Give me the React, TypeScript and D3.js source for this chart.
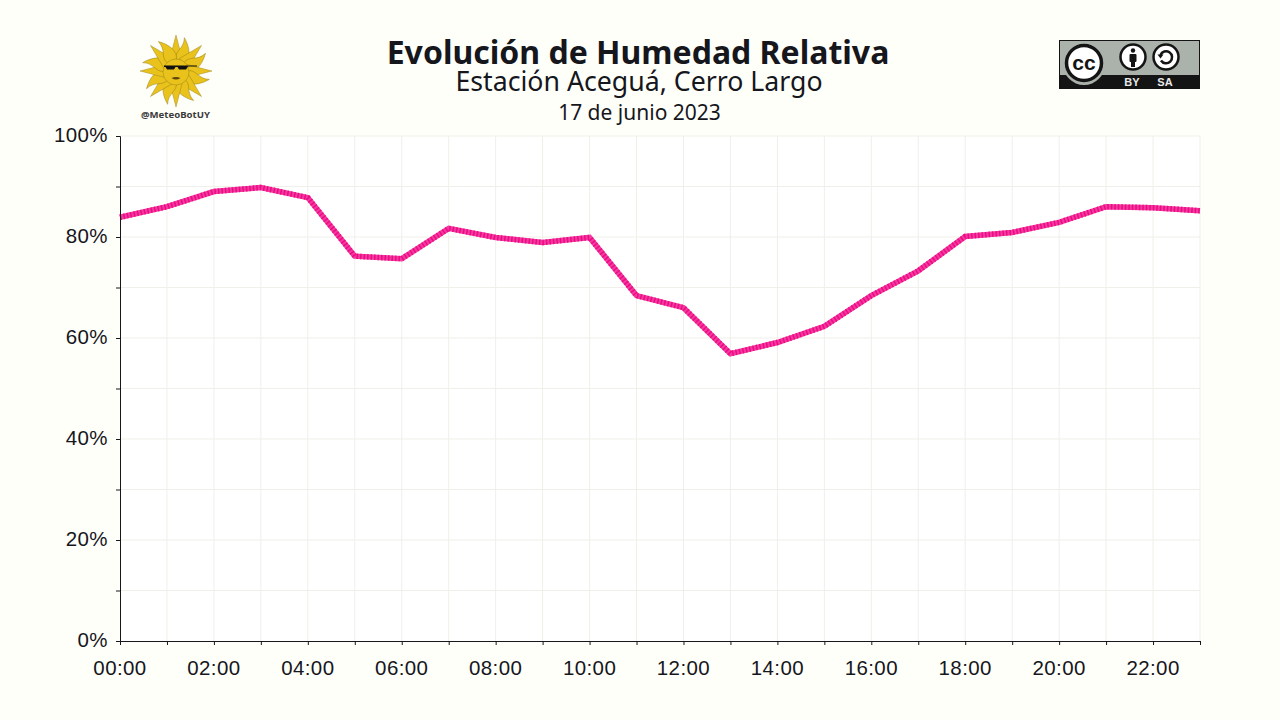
import React, { useRef, useEffect } from 'react';
import * as d3 from 'd3';

const hours = ['00:00', '01:00', '02:00', '03:00', '04:00', '05:00', '06:00', '07:00', '08:00', '09:00', '10:00', '11:00', '12:00', '13:00', '14:00', '15:00', '16:00', '17:00', '18:00', '19:00', '20:00', '21:00', '22:00', '23:00'];
const humidity = [83.9, 86.0, 89.0, 89.8, 87.8, 76.2, 75.7, 81.7, 79.9, 78.9, 79.9, 68.4, 66.0, 56.9, 59.1, 62.3, 68.4, 73.3, 80.1, 80.9, 82.9, 86.0, 85.8, 85.2];
const yTicks = [0, 10, 20, 30, 40, 50, 60, 70, 80, 90, 100];

const width = 1280;
const height = 720;
const margin = { top: 136, right: 80, bottom: 79, left: 120 };
const ink = '#16161d';
const sansAxis = '"Liberation Sans", Arial, sans-serif';
const sansTitle = '"Noto Sans", sans-serif';

const Sun = () => {
  const cx = 176;
  const cy = 71;
  const rays = d3.range(16).map((i) => (i * 360) / 16);
  return (
    <g>
      {rays.map((a, i) => (
        <path
          key={a}
          transform={`translate(${cx},${cy}) rotate(${a})`}
          d={i % 2 === 0 ? 'M-6.5,-11 L0,-36 L6.5,-11 Z' : 'M-5,-11 C-9,-19 -1,-23 -5,-34 C4,-27 9,-18 5,-11 Z'}
          fill="#e9c31b"
          stroke="#8a7418"
          strokeWidth={0.4}
        />
      ))}
      <circle cx={cx} cy={cy + 1} r={13} fill="#e9c31b" stroke="#8a7418" strokeWidth={0.4} />
      <path d="M164,65.5 H197 V66.5 H188 L186,69.5 H179 L177.5,67 H175.5 L174,69.5 H167 L165.5,67 H164 Z" fill="#111" />
      <path d="M171.5,78 Q176,76 180.5,78 Q176,81 171.5,78 Z" fill="#5c4410" />
      <text x={175.5} y={118} textAnchor="middle" fontFamily={sansTitle} fontWeight={700} fontSize={9.6} fill="#3a3a3a">@MeteoBotUY</text>
    </g>
  );
};

const CcBadge = () => (
  <g>
    <rect x={1059} y={40} width={141} height={49} fill="#aab2ab" />
    <rect x={1059} y={75} width={141} height={14} fill="#141414" />
    <rect x={1059.5} y={40.5} width={140} height={48} fill="none" stroke="#141414" strokeWidth={1} />
    <circle cx={1084} cy={64} r={21} fill="#aab2ab" />
    <circle cx={1084} cy={63} r={17.5} fill="#fff" stroke="#141414" strokeWidth={3.5} />
    <text x={1084} y={70} textAnchor="middle" fontFamily={sansAxis} fontWeight={700} fontSize={21} fill="#141414">cc</text>
    <circle cx={1133} cy={57} r={12.5} fill="#fff" stroke="#141414" strokeWidth={2.5} />
    <circle cx={1133} cy={50.5} r={2.2} fill="#141414" />
    <rect x={1129.5} y={54} width={7} height={8} rx={1} fill="#141414" />
    <rect x={1131} y={60} width={4} height={7} fill="#141414" />
    <circle cx={1166} cy={57} r={12.5} fill="#fff" stroke="#141414" strokeWidth={2.5} />
    <path d="M1160.5,55 A6,6 0 1 1 1161,60.5" fill="none" stroke="#141414" strokeWidth={2.5} />
    <path d="M1157.5,54.5 L1163.5,54.5 L1160.5,58.5 Z" fill="#141414" />
    <text x={1132} y={86} textAnchor="middle" fontFamily={sansAxis} fontWeight={700} fontSize={11} fill="#e8e8e8">BY</text>
    <text x={1165} y={86} textAnchor="middle" fontFamily={sansAxis} fontWeight={700} fontSize={11} fill="#e8e8e8">SA</text>
  </g>
);

const App = () => {
  const chartRef = useRef<SVGGElement>(null);

  useEffect(() => {
    if (!chartRef.current) return;
    const g = d3.select(chartRef.current);
    g.selectAll('*').remove();

    const x = d3
      .scalePoint<string>()
      .domain(hours)
      .range([margin.left, width - margin.right]);
    const y = d3
      .scaleLinear()
      .domain([0, 100])
      .range([height - margin.bottom, margin.top]);

    // plot background
    g.append('rect')
      .attr('x', margin.left)
      .attr('y', margin.top)
      .attr('width', width - margin.left - margin.right)
      .attr('height', height - margin.top - margin.bottom)
      .attr('fill', '#ffffff');

    // grid
    g.append('g')
      .selectAll('line')
      .data(hours.slice(1))
      .enter()
      .append('line')
      .attr('x1', (d) => x(d)!)
      .attr('x2', (d) => x(d)!)
      .attr('y1', margin.top)
      .attr('y2', height - margin.bottom)
      .attr('stroke', '#f0efe9');
    g.append('g')
      .selectAll('line')
      .data(yTicks.slice(1))
      .enter()
      .append('line')
      .attr('x1', margin.left)
      .attr('x2', width - margin.right)
      .attr('y1', (d) => y(d))
      .attr('y2', (d) => y(d))
      .attr('stroke', '#f0efe9');

    // humidity line
    const line = d3
      .line<number>()
      .x((_, i) => x(hours[i])!)
      .y((d) => y(d));
    g.append('path')
      .datum(humidity)
      .attr('d', line)
      .attr('fill', 'none')
      .attr('stroke', '#f23a9f')
      .attr('stroke-width', 5.5);
    g.append('path')
      .datum(humidity)
      .attr('d', line)
      .attr('fill', 'none')
      .attr('stroke', '#ee0a85')
      .attr('stroke-width', 5.5)
      .attr('stroke-dasharray', '1.5 2');

    // axes
    const yAxis = d3
      .axisLeft(y)
      .tickValues(yTicks)
      .tickSize(4)
      .tickPadding(8)
      .tickFormat((d) => (Number(d) % 20 === 0 ? `${d}%` : ''));
    const yG = g.append('g').attr('transform', `translate(${margin.left},0)`).call(yAxis);

    const xAxis = d3
      .axisBottom(x)
      .tickSize(4)
      .tickPadding(15)
      .tickFormat((d, i) => (i % 2 === 0 ? d : ''));
    const xG = g.append('g').attr('transform', `translate(0,${height - margin.bottom})`).call(xAxis);

    [yG, xG].forEach((a) => {
      a.selectAll('.domain').attr('stroke', ink);
      a.selectAll('line').attr('stroke', ink);
      a.selectAll('text')
        .attr('fill', ink)
        .attr('font-family', sansAxis)
        .attr('font-size', 20.5)
        .attr('letter-spacing', 0.4);
    });
    yG.selectAll('text').attr('y', -1);
    xG.selectAll('text').attr('x', -0.5);
  }, []);

  return (
    <svg
      width={width}
      height={height}
      style={{ position: 'fixed', left: 0, top: 0, background: '#fffffa' }}
    >
      <g ref={chartRef} />
      <text x={638} y={64} textAnchor="middle" fontFamily={sansTitle} fontWeight={700} fontSize={32} fill={ink}>Evolución de Humedad Relativa</text>
      <text x={639} y={91} textAnchor="middle" fontFamily={sansTitle} fontSize={26.7} fill={ink}>Estación Aceguá, Cerro Largo</text>
      <text x={639.5} y={120} textAnchor="middle" fontFamily={sansTitle} fontSize={21} fill={ink}>17 de junio 2023</text>
      <Sun />
      <CcBadge />
    </svg>
  );
};

export default App;
